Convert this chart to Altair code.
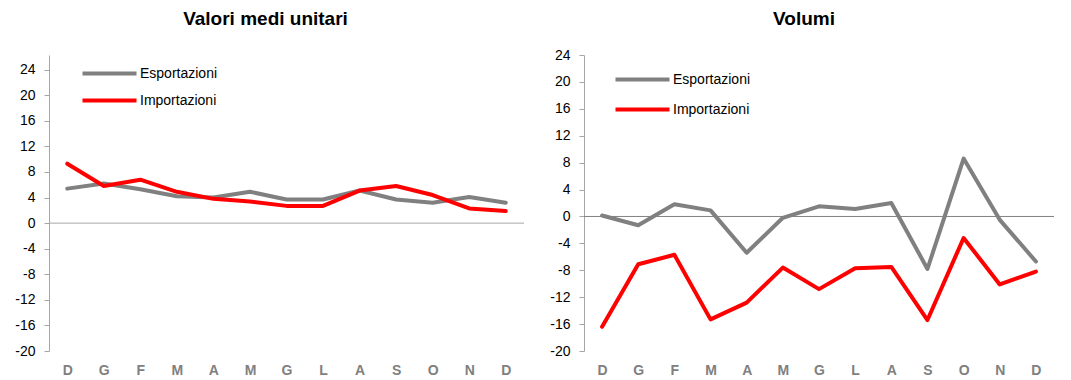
import altair as alt
import pandas as pd

# Month initials (Dec .. Dec)
months = ["D", "G", "F", "M", "A", "M", "G", "L", "A", "S", "O", "N", "D"]
series = ["Esportazioni", "Importazioni"]
colors = ["#808080", "#ff0000"]

# Valori medi unitari (var. % tendenziali)
valori_esp = [5.4, 6.2, 5.3, 4.2, 4.0, 4.9, 3.7, 3.7, 5.1, 3.7, 3.2, 4.1, 3.2]
valori_imp = [9.3, 5.8, 6.8, 4.9, 3.8, 3.4, 2.7, 2.7, 5.1, 5.8, 4.4, 2.3, 1.9]

# Volumi (var. % tendenziali)
volumi_esp = [0.15, -1.3, 1.8, 0.9, -5.4, -0.2, 1.5, 1.1, 2.0, -7.8, 8.6, -0.5, -6.7]
volumi_imp = [-16.4, -7.1, -5.7, -15.3, -12.8, -7.6, -10.8, -7.7, -7.5, -15.4, -3.2, -10.1, -8.2]

y_ticks = list(range(-20, 25, 4))
label_expr = "[" + ",".join(f"'{m}'" for m in months) + "][datum.value]"

# wide flat stroke used as legend key (path is scaled by sqrt(size)/2)
legend_key = "M-2,0H2"


def panel(title, esp, imp, ymax, width, legend_x, legend_y, row_pad,
          title_offset, title_dx, zero_color):
    df = pd.DataFrame({
        "i": list(range(len(months))) * 2,
        "v": esp + imp,
        "serie": [series[0]] * len(esp) + [series[1]] * len(imp),
    })
    y_axis = alt.Axis(values=y_ticks, labelExpr="datum.value + ''", labelOverlap=False,
                      title=None, grid=False, domainColor="#a6a6a6",
                      tickColor="#a6a6a6", tickSize=5, labelPadding=9,
                      labelFontSize=14, labelColor="#000000")
    y_scale = alt.Scale(domain=[-20, ymax], nice=False, zero=False)
    x = alt.X(
        "i:Q",
        scale=alt.Scale(domain=[-0.5, len(months) - 0.5], nice=False, zero=False),
        axis=alt.Axis(values=list(range(len(months))), labelExpr=label_expr, title=None,
                      grid=False, domain=False, ticks=False, labelColor="#808080",
                      labelFontWeight="bold", labelFontSize=14, labelPadding=12),
    )
    zero = alt.Chart(pd.DataFrame({"v": [0]})).mark_rule(
        color=zero_color, strokeWidth=1
    ).encode(y=alt.Y("v:Q", scale=y_scale, axis=y_axis))
    lines = alt.Chart(df).mark_line(strokeWidth=4, strokeCap="round", strokeJoin="round").encode(
        x=x,
        y=alt.Y("v:Q", scale=y_scale, axis=y_axis),
        color=alt.Color(
            "serie:N",
            scale=alt.Scale(domain=series, range=colors),
            legend=alt.Legend(
                title=None, orient="none", legendX=legend_x, legendY=legend_y,
                symbolType=legend_key, symbolStrokeWidth=4, symbolSize=729,
                labelFontSize=14, labelColor="#000000", labelOffset=15,
                rowPadding=row_pad,
            ),
        ),
    )
    return alt.layer(lines, zero).properties(
        width=width,
        height=296,
        title=alt.TitleParams(title, fontSize=19, fontWeight="bold", anchor="middle",
                              dx=title_dx, offset=title_offset, color="#000000"),
    )


left = panel("Valori medi unitari", valori_esp, valori_imp, 26.3, 475, 45, 3, 3, 26, -21, "#a6a6a6")
right = panel("Volumi", volumi_esp, volumi_imp, 24, 470, 43, 9, 6, 19, -15, "#808080")

chart = alt.hconcat(left, right, spacing=60, bounds="flush").resolve_scale(
    color="independent"
).properties(
    padding={"left": 14, "top": 10, "right": 5, "bottom": 0}
).configure(font="Liberation Sans").configure_view(stroke=None)

chart.save("out.html", embed_options={"renderer": "svg", "actions": False})
